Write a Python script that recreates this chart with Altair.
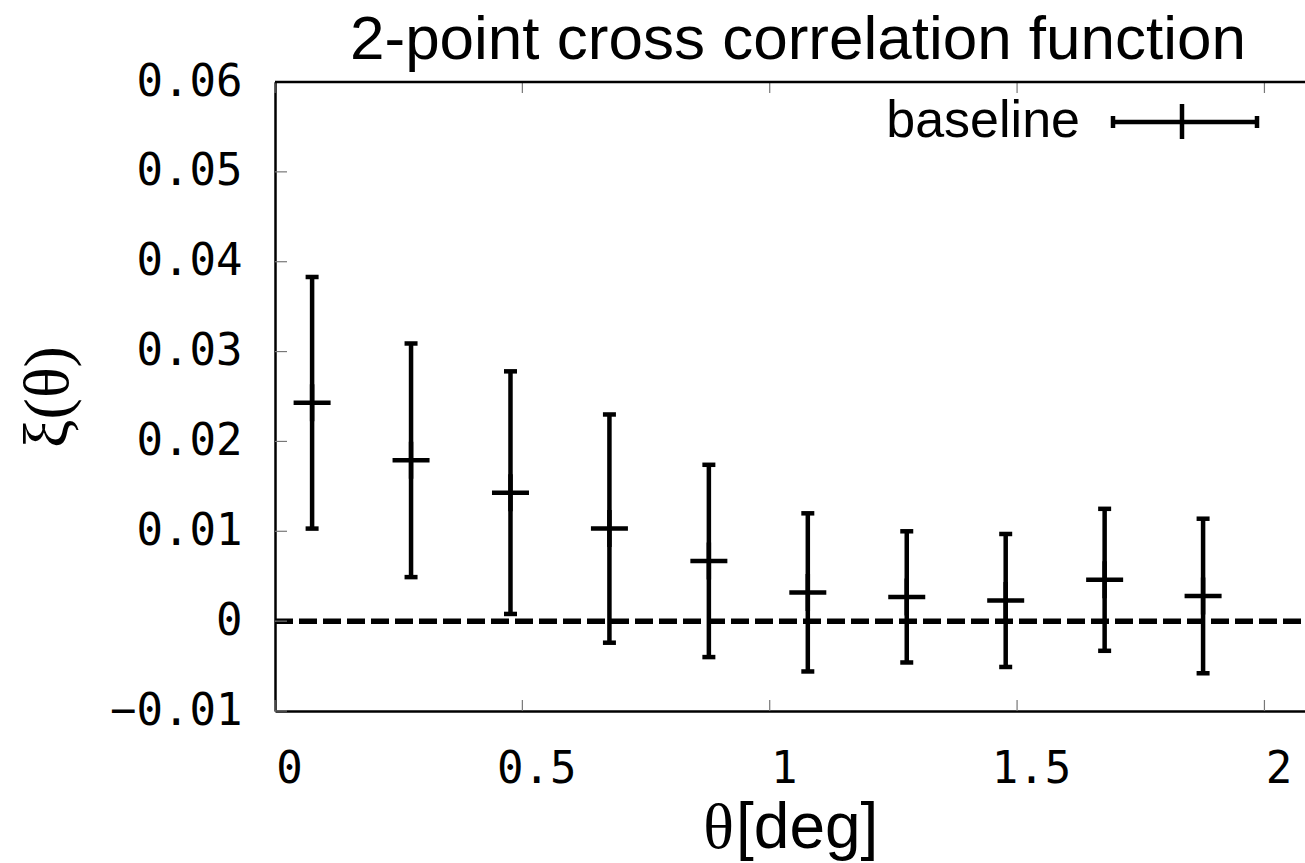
import altair as alt
import pandas as pd

# ---- data ----
theta = [0.075, 0.275, 0.476, 0.676, 0.877, 1.077, 1.277, 1.477, 1.677, 1.876]
xi = [0.0243, 0.0179, 0.0143, 0.0103, 0.0067, 0.0032, 0.0027, 0.0023, 0.0046, 0.0028]
err = [0.0140, 0.0130, 0.0135, 0.0127, 0.0107, 0.0088, 0.0073, 0.0074, 0.0079, 0.0086]

x_ticks = [0, 0.5, 1, 1.5, 2]
y_ticks = [-0.01, 0, 0.01, 0.02, 0.03, 0.04, 0.05, 0.06]
zero_line = [0.0]

W, H = 1030, 629
PAD_L, PAD_T = 275, 82

df = pd.DataFrame({"theta": theta, "xi": xi, "err": err})
xs = alt.Scale(domain=[0, 2.082], nice=False, zero=False)
ys = alt.Scale(domain=[-0.01, 0.06], nice=False, zero=False)

AX = alt.Axis(values=x_ticks, format=".1~f", ticks=False, tickSize=0,
              grid=False, domainColor="black", domainWidth=2.5,
              labelFont="DejaVu Sans Mono", labelFontSize=44,
              labelColor="black", labelPadding=36, labelOffset=14,
              labelFlush=False, labelOverlap=False, title=None)
AY = alt.Axis(values=y_ticks, format=".2~f", ticks=False, tickSize=0,
              grid=False, domainColor="black", domainWidth=2.5,
              labelFont="DejaVu Sans Mono", labelFontSize=44,
              labelColor="black", labelPadding=33,
              labelFlush=False, labelOverlap=False, title=None)


def X(f):
    return alt.X(f, scale=xs, axis=AX, title=None)


def Y(f):
    return alt.Y(f, scale=ys, axis=AY, title=None)


base = alt.Chart(df).transform_calculate(
    lo="datum.xi - datum.err", hi="datum.xi + datum.err"
)

bars = base.mark_rule(color="black", strokeWidth=4.5).encode(
    x=X("theta:Q"), y=Y("lo:Q"), y2="hi:Q",
)

cap_lo = base.mark_tick(color="black", orient="horizontal", size=13, thickness=4.5, opacity=1).encode(
    x=X("theta:Q"), y=Y("lo:Q"),
)
cap_hi = base.mark_tick(color="black", orient="horizontal", size=13, thickness=4.5, opacity=1).encode(
    x=X("theta:Q"), y=Y("hi:Q"),
)

plus = base.mark_point(shape="M-1,0H1M0,-1V1", size=1369, strokeWidth=4.5,
                       filled=False, color="black", opacity=1).encode(
    x=X("theta:Q"), y=Y("xi:Q"),
)

zero = alt.Chart(pd.DataFrame({"v": zero_line})).mark_rule(
    color="black", strokeWidth=5.5, strokeDash=[18, 6]
).encode(
    y=Y("v:Q"), x=alt.value(0), x2=alt.value(W)
)

ydf = pd.DataFrame({"v": y_ticks})
xdf = pd.DataFrame({"v": x_ticks})
ytick_marks = alt.Chart(ydf).mark_rule(color="#777", strokeWidth=1.2).encode(
    y=Y("v:Q"), x=alt.value(0), x2=alt.value(12)
)
xtick_bot = alt.Chart(xdf).mark_rule(color="#777", strokeWidth=1.2).encode(
    x=X("v:Q"), y=alt.value(H), y2=alt.value(H - 11)
)
xtick_top = alt.Chart(xdf).mark_rule(color="#777", strokeWidth=1.2).encode(
    x=X("v:Q"), y=alt.value(0), y2=alt.value(11)
)

one = pd.DataFrame({"k": [0]})
top_border = alt.Chart(one).mark_rule(color="black", strokeWidth=2.5).encode(
    x=alt.value(0), x2=alt.value(W), y=alt.value(0)
)

title = alt.Chart(one).mark_text(
    font="Liberation Sans", fontSize=62, align="center", baseline="alphabetic", color="black"
).encode(x=alt.value(523), y=alt.value(-23), text=alt.value("2-point cross correlation function"))

leg_text = alt.Chart(one).mark_text(
    font="Liberation Sans", fontSize=52, align="right", baseline="alphabetic", color="black"
).encode(x=alt.value(805), y=alt.value(55), text=alt.value("baseline"))
leg_line = alt.Chart(one).mark_rule(color="black", strokeWidth=4.5).encode(
    x=alt.value(838), x2=alt.value(982), y=alt.value(40)
)
leg_cap1 = alt.Chart(one).mark_rule(color="black", strokeWidth=4.5).encode(
    x=alt.value(838), y=alt.value(34), y2=alt.value(46)
)
leg_cap2 = alt.Chart(one).mark_rule(color="black", strokeWidth=4.5).encode(
    x=alt.value(982), y=alt.value(34), y2=alt.value(46)
)
leg_plus = alt.Chart(one).mark_rule(color="black", strokeWidth=4.5).encode(
    x=alt.value(907), y=alt.value(22), y2=alt.value(57)
)

xtitle_a = alt.Chart(one).mark_text(
    font="Liberation Serif", fontSize=64, align="right", baseline="alphabetic", color="black"
).encode(x=alt.value(459), y=alt.value(766), text=alt.value("θ"))
xtitle_b = alt.Chart(one).mark_text(
    font="Liberation Sans", fontSize=64, align="left", baseline="alphabetic", color="black"
).encode(x=alt.value(461), y=alt.value(766), text=alt.value("[deg]"))

ytitle = alt.Chart(one).mark_text(
    font="Liberation Serif", fontSize=64, align="center", baseline="middle", angle=270, color="black"
).encode(x=alt.value(-226), y=alt.value(315), text=alt.value("ξ(θ)"))

chart = alt.layer(
    zero, bars, cap_lo, cap_hi, plus,
    ytick_marks, xtick_bot, xtick_top, top_border,
    title, leg_text, leg_line, leg_cap1, leg_cap2, leg_plus,
    xtitle_a, xtitle_b, ytitle,
).properties(
    width=W, height=H,
    autosize=alt.AutoSizeParams(type="none"),
    padding={"left": PAD_L, "top": PAD_T, "right": 0, "bottom": 863 - PAD_T - H},
).configure_view(stroke=None).configure(background="white")

chart.save("out.html", embed_options={"renderer": "svg", "actions": False})
